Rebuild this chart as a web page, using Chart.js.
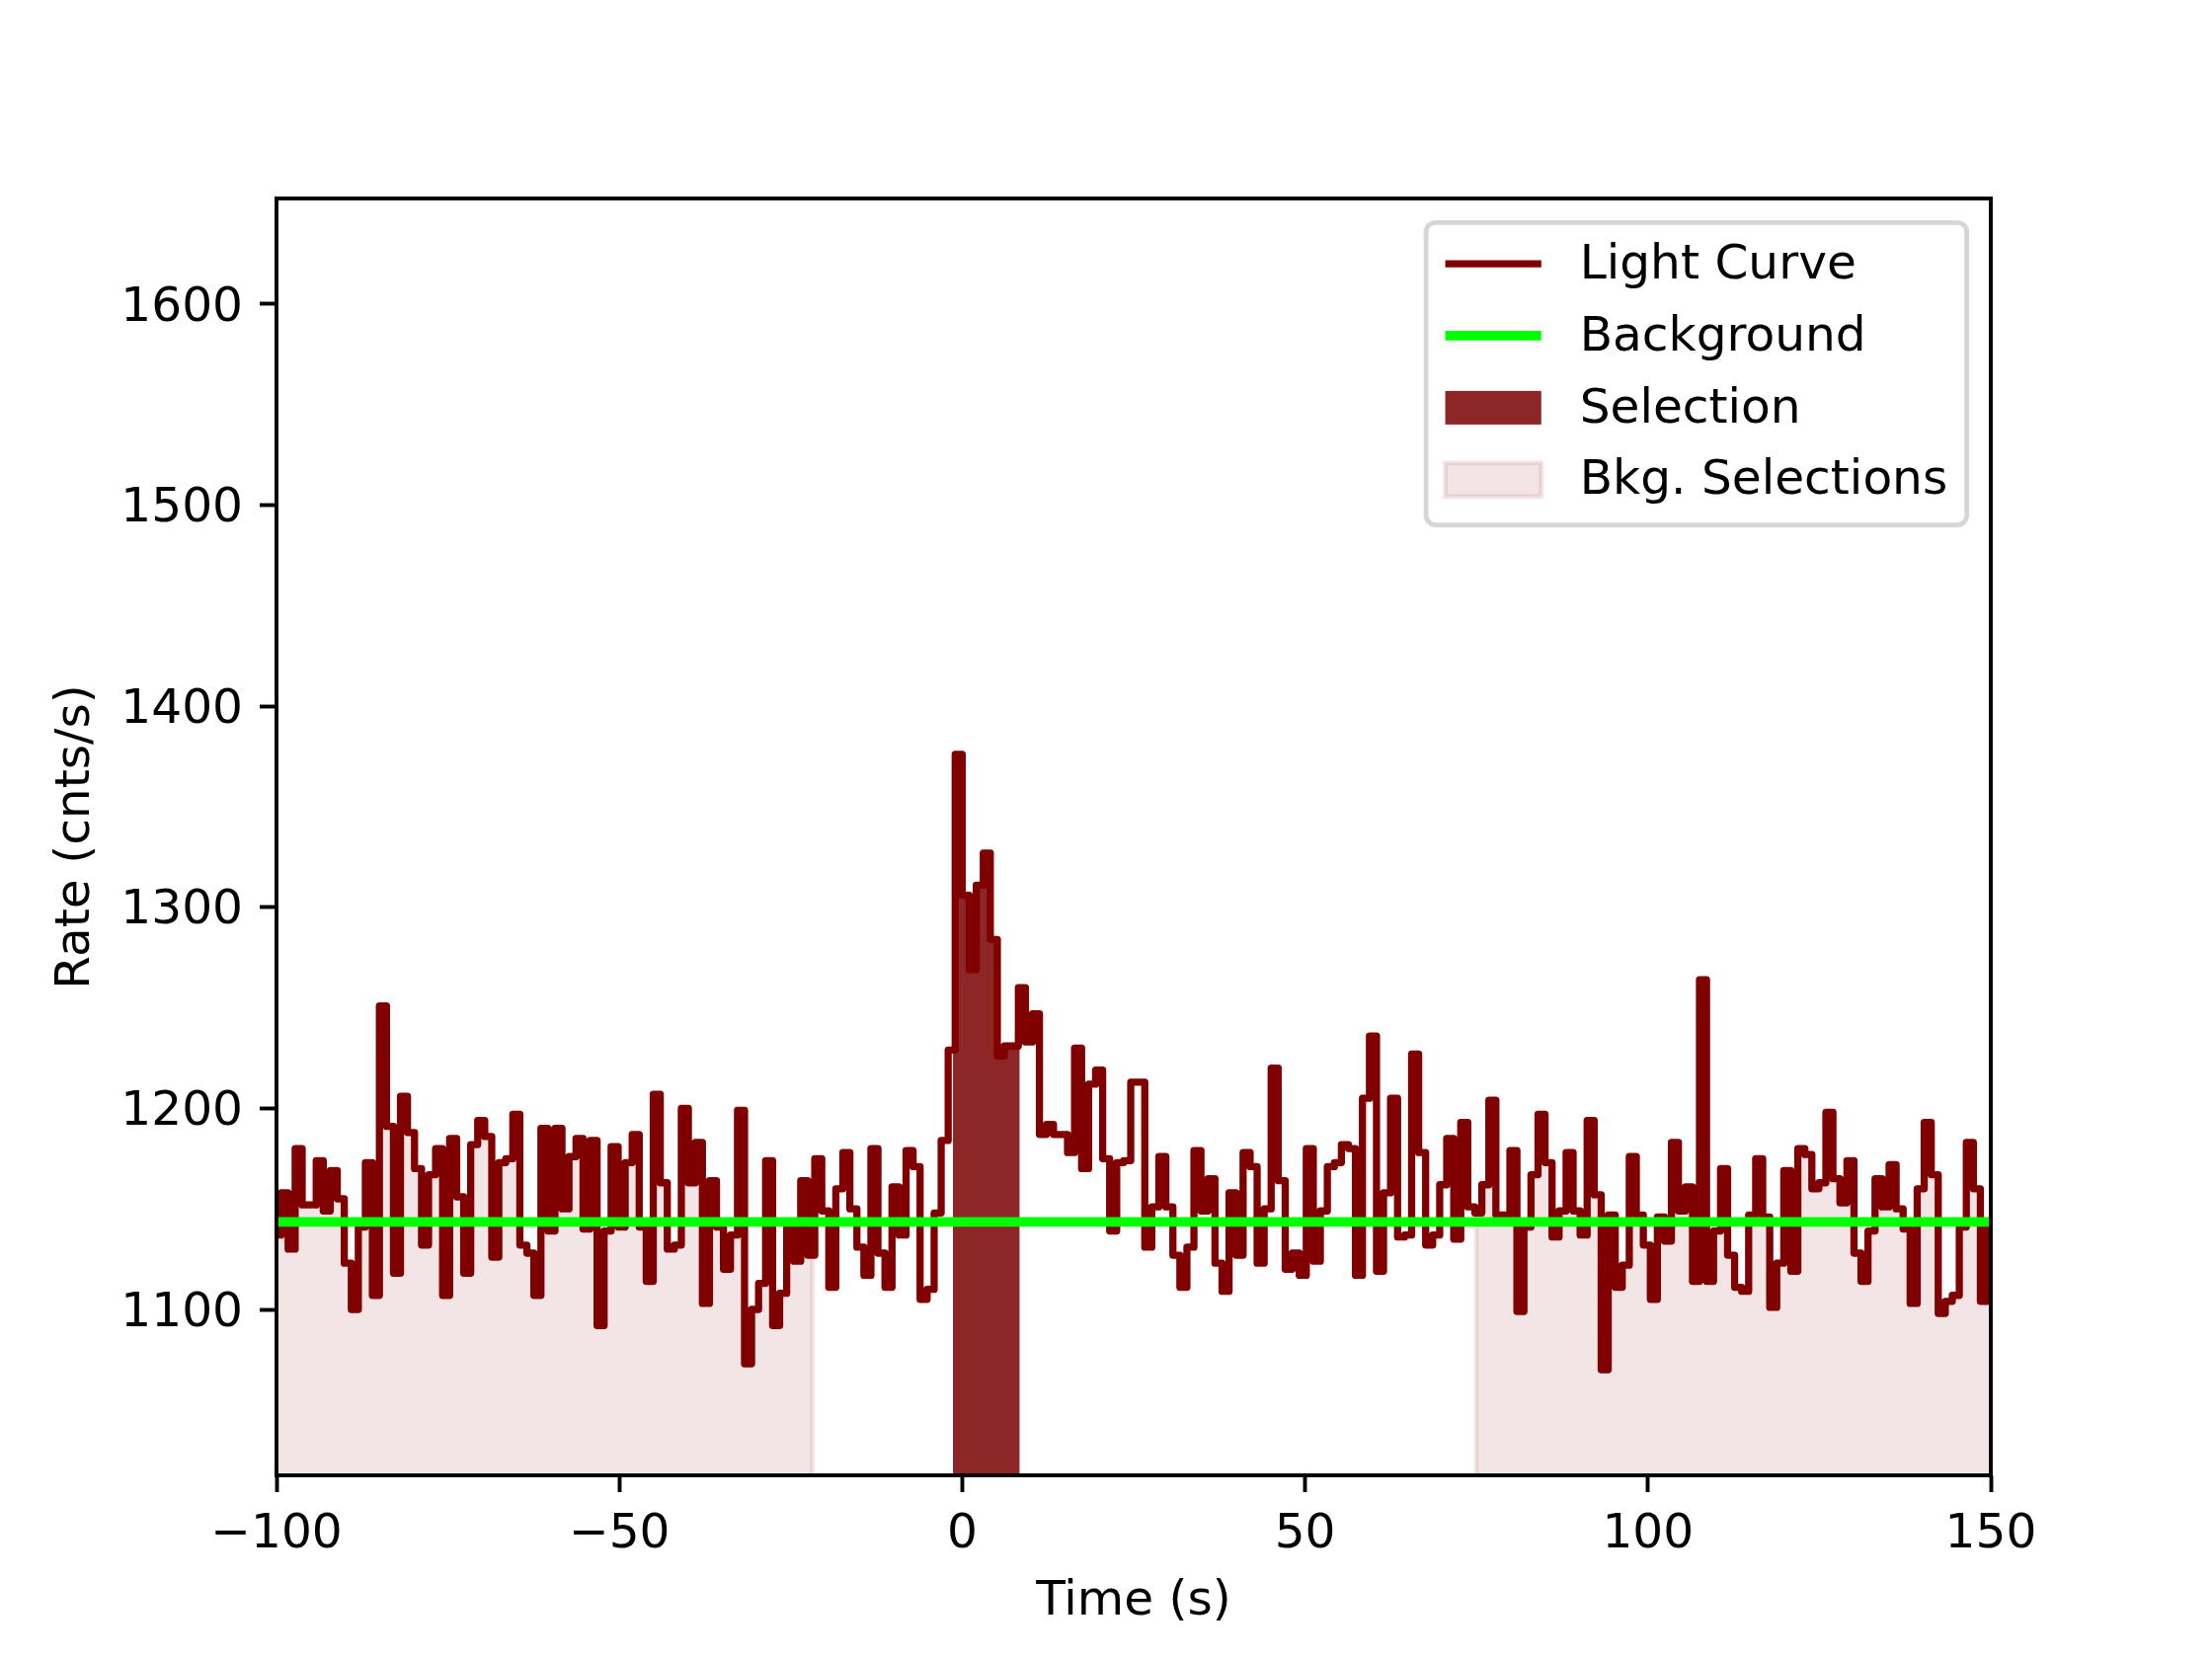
<!DOCTYPE html>
<html><head><meta charset="utf-8">
<script src="https://cdn.jsdelivr.net/npm/chart.js@4.4.1/dist/chart.umd.min.js"></script>
<style>html,body{margin:0;padding:0;background:#fff}#wrap{width:2240px;height:1680px}</style>
</head><body><div id="wrap"><canvas id="c" width="2240" height="1680"></canvas></div>
<script>
// ---- data ----
const binStart = -100.352;   // s, left edge of first bin
const binWidth = 1.024;      // s
const rates = [
  1137,1158,1130,1180,1152,1152,1174,1149,1169,1155,1123,1100,1141,1173,1107,1251,1191,1118,1206,1188,1170,1132,1167,1180,1107,
  1185,1156,1118,1182,1194,1186,1126,1173,1175,1197,1132,1128,1107,1190,1139,1190,1150,1176,1185,1140,1184,1092,1139,1181,
  1141,1173,1187,1141,1114,1207,1163,1130,1132,1200,1163,1183,1103,1164,1141,1120,1137,1199,1073,1100,1113,1174,1092,1108,1141,
  1124,1164,1127,1175,1149,1111,1160,1178,1150,1131,1117,1180,1128,1111,1161,1137,1179,1171,1105,1110,1148,1184,1229,
  1376,1306,1269,1311,1327,
  1284,1226,1231,1231,1260,1233,1247,1187,1192,1187,1187,1178,1230,1170,1212,1219,
  1175,1139,1173,1174,1213,1213,
  1131,1151,1176,1151,1127,1111,1131,1179,1149,1165,1123,1109,1158,1127,1178,1171,1123,1150,1220,
  1164,1120,1128,1117,1180,1124,1149,1171,1173,1182,1180,1117,1205,1236,1119,1158,1205,1136,1137,1227,1178,1132,1137,1162,1185,
  1135,1193,1151,1148,1162,1204,1147,1147,1179,1099,1141,1167,1197,1173,1136,1149,1178,1149,1137,1194,1157,1070,1147,1111,1122,1176,
  1147,1132,1105,1146,1134,1183,1149,1161,1114,1264,1114,1139,1170,1127,1111,1109,1147,1175,1146,1101,1123,1169,
  1119,1180,1177,1160,1163,1198,1165,1153,1174,1128,1114,1139,1165,1151,1172,1150,1140,1103,1160,1193,1167,1098,1104,1107,1141,1183,1160,1104,1141
];
const backgroundTimes = [-100.352, 150.528];
const backgroundRates = [1143.5, 1143.5];
const selectionInterval = [-1.35, 8.39];
const bkgIntervals = [[-100.352, -21.85], [74.95, 150.528]];
const xTicks = [-100, -50, 0, 50, 100, 150];
const yTicks = [1100, 1200, 1300, 1400, 1500, 1600];
const xRange = [-100, 150];
const yRange = [1017.5, 1652.5];
const legendLabels = ['Light Curve', 'Background', 'Selection', 'Bkg. Selections'];
const xTitle = 'Time (s)';
const yTitle = 'Rate (cnts/s)';

// ---- styles ----
const PT = 350 / 72;
const FONT_PX = 10 * PT;
const C_CURVE = '#800000';
const C_BG = '#00ff00';
const C_SEL = 'rgb(141,38,38)';
const C_BKG = 'rgba(139,0,0,0.1)';

// ---- derived point lists (from data arrays) ----
const curvePts = rates.map((v, i) => ({x: binStart + i * binWidth, y: v}));
curvePts.push({x: binStart + rates.length * binWidth, y: rates[rates.length - 1]});

function rateAt(t) {
  let i = Math.floor((t - binStart) / binWidth);
  i = Math.max(0, Math.min(rates.length - 1, i));
  return rates[i];
}
function regionPts(a, b, base) {
  const pts = [{x: a, y: base}, {x: a, y: rateAt(a)}];
  rates.forEach((v, i) => {
    const s = binStart + i * binWidth;
    if (s > a && s < b) pts.push({x: s, y: v});
  });
  pts.push({x: b, y: rateAt(b - 1e-9)});
  pts.push({x: b, y: base});
  return pts;
}

const datasets = [
  {label: legendLabels[1], data: backgroundTimes.map((t, i) => ({x: t, y: backgroundRates[i]})),
   borderColor: C_BG, borderWidth: 2 * PT, pointRadius: 0, fill: false, order: 0, clip: 0},
  {label: legendLabels[0], data: curvePts, stepped: true, borderColor: C_CURVE, borderWidth: 1.5 * PT,
   borderJoinStyle: 'round', borderCapStyle: 'butt', pointRadius: 0, fill: false, order: 1, clip: 0},
  {label: legendLabels[2], data: regionPts(selectionInterval[0], selectionInterval[1], yRange[0]), stepped: true,
   borderColor: 'rgba(0,0,0,0)', borderWidth: 0, backgroundColor: C_SEL, pointRadius: 0, fill: 'start', order: 2, clip: 0},
];
bkgIntervals.forEach(([a, b]) => {
  datasets.push({label: legendLabels[3], data: regionPts(a, b, yRange[0]), stepped: true,
    borderColor: C_BKG, borderWidth: 1 * PT, backgroundColor: C_BKG, pointRadius: 0, fill: 'start', order: 3, clip: 0});
});

const fmt = v => (v < 0 ? '\u2212' + Math.abs(v) : String(v));

const framePlugin = {
  id: 'frame',
  afterDatasetsDraw(chart) {
    const {ctx, chartArea: a} = chart;
    ctx.save();
    ctx.strokeStyle = '#000';
    ctx.lineWidth = 0.8 * PT;
    ctx.strokeRect(a.left, a.top, a.right - a.left, a.bottom - a.top);
    ctx.restore();
  },
  afterDraw(chart) {
    const {ctx, chartArea: a} = chart;
    const fs = FONT_PX;
    ctx.save();
    ctx.font = fs + 'px "DejaVu Sans"';
    const maxW = Math.max(...legendLabels.map(s => ctx.measureText(s).width));
    const pad = 0.4 * fs, hl = 2 * fs, htp = 0.8 * fs, ls = 0.5 * fs, bap = 0.5 * fs;
    const right = a.right - bap, top = a.top + bap;
    const w = 2 * pad + hl + htp + maxW;
    const h = 2 * pad + 4 * fs + 3 * ls;
    const left = right - w;
    // frame
    const r = 0.2 * fs;
    ctx.beginPath();
    ctx.moveTo(left + r, top);
    ctx.lineTo(right - r, top); ctx.arcTo(right, top, right, top + r, r);
    ctx.lineTo(right, top + h - r); ctx.arcTo(right, top + h, right - r, top + h, r);
    ctx.lineTo(left + r, top + h); ctx.arcTo(left, top + h, left, top + h - r, r);
    ctx.lineTo(left, top + r); ctx.arcTo(left, top, left + r, top, r);
    ctx.closePath();
    ctx.fillStyle = 'rgba(255,255,255,0.8)';
    ctx.fill();
    ctx.strokeStyle = 'rgba(204,204,204,0.8)';
    ctx.lineWidth = 1 * PT;
    ctx.stroke();
    const hx = left + pad;
    legendLabels.forEach((lab, i) => {
      const cy = top + pad + fs / 2 + i * (fs + ls) - 2;
      if (i === 0 || i === 1) {
        ctx.beginPath();
        ctx.moveTo(hx, cy); ctx.lineTo(hx + hl, cy);
        ctx.strokeStyle = i === 0 ? C_CURVE : C_BG;
        ctx.lineWidth = (i === 0 ? 1.5 : 2) * PT;
        ctx.lineCap = 'butt';
        ctx.stroke();
      } else {
        const ph = 0.7 * fs;
        ctx.fillStyle = i === 2 ? C_SEL : C_BKG;
        ctx.fillRect(hx, cy - ph / 2, hl, ph);
        if (i === 3) {
          ctx.strokeStyle = C_BKG;
          ctx.lineWidth = 1 * PT;
          ctx.strokeRect(hx, cy - ph / 2, hl, ph);
        }
      }
      ctx.fillStyle = '#000';
      ctx.textBaseline = 'middle';
      ctx.textAlign = 'left';
      ctx.fillText(lab, hx + hl + htp, cy + 2);
    });
    ctx.restore();
  }
};

Chart.defaults.font.family = '"DejaVu Sans"';
Chart.defaults.font.size = FONT_PX;
Chart.defaults.color = '#000';

new Chart(document.getElementById('c'), {
  type: 'line',
  data: {datasets},
  options: {
    responsive: false, animation: false, devicePixelRatio: 1,
    layout: {padding: {left: 0, top: 201, right: 224, bottom: 0}},
    plugins: {legend: {display: false}, tooltip: {enabled: false}},
    elements: {line: {tension: 0}},
    scales: {
      x: {
        type: 'linear', min: xRange[0], max: xRange[1],
        afterBuildTicks: ax => { ax.ticks = xTicks.map(v => ({value: v})); },
        afterFit: ax => { ax.height = 186; },
        ticks: {callback: v => fmt(v), padding: 14, maxRotation: 0, autoSkip: false, color: '#000'},
        grid: {drawOnChartArea: false, drawTicks: true, tickLength: 0.35 * 10 * PT, tickWidth: 0.8 * PT, tickColor: '#000'},
        border: {display: false},
        title: {display: true, text: xTitle, padding: {top: 0, bottom: 28}, color: '#000'}
      },
      y: {
        type: 'linear', min: yRange[0], max: yRange[1],
        afterBuildTicks: ax => { ax.ticks = yTicks.map(v => ({value: v})); },
        afterFit: ax => { ax.width = 280; },
        ticks: {callback: v => fmt(v), padding: 17, labelOffset: 4, autoSkip: false, color: '#000'},
        grid: {drawOnChartArea: false, drawTicks: true, tickLength: 0.35 * 10 * PT, tickWidth: 0.8 * PT, tickColor: '#000'},
        border: {display: false},
        title: {display: true, text: yTitle, padding: {top: 48, bottom: 0}, color: '#000'}
      }
    }
  },
  plugins: [framePlugin]
});
</script></body></html>
